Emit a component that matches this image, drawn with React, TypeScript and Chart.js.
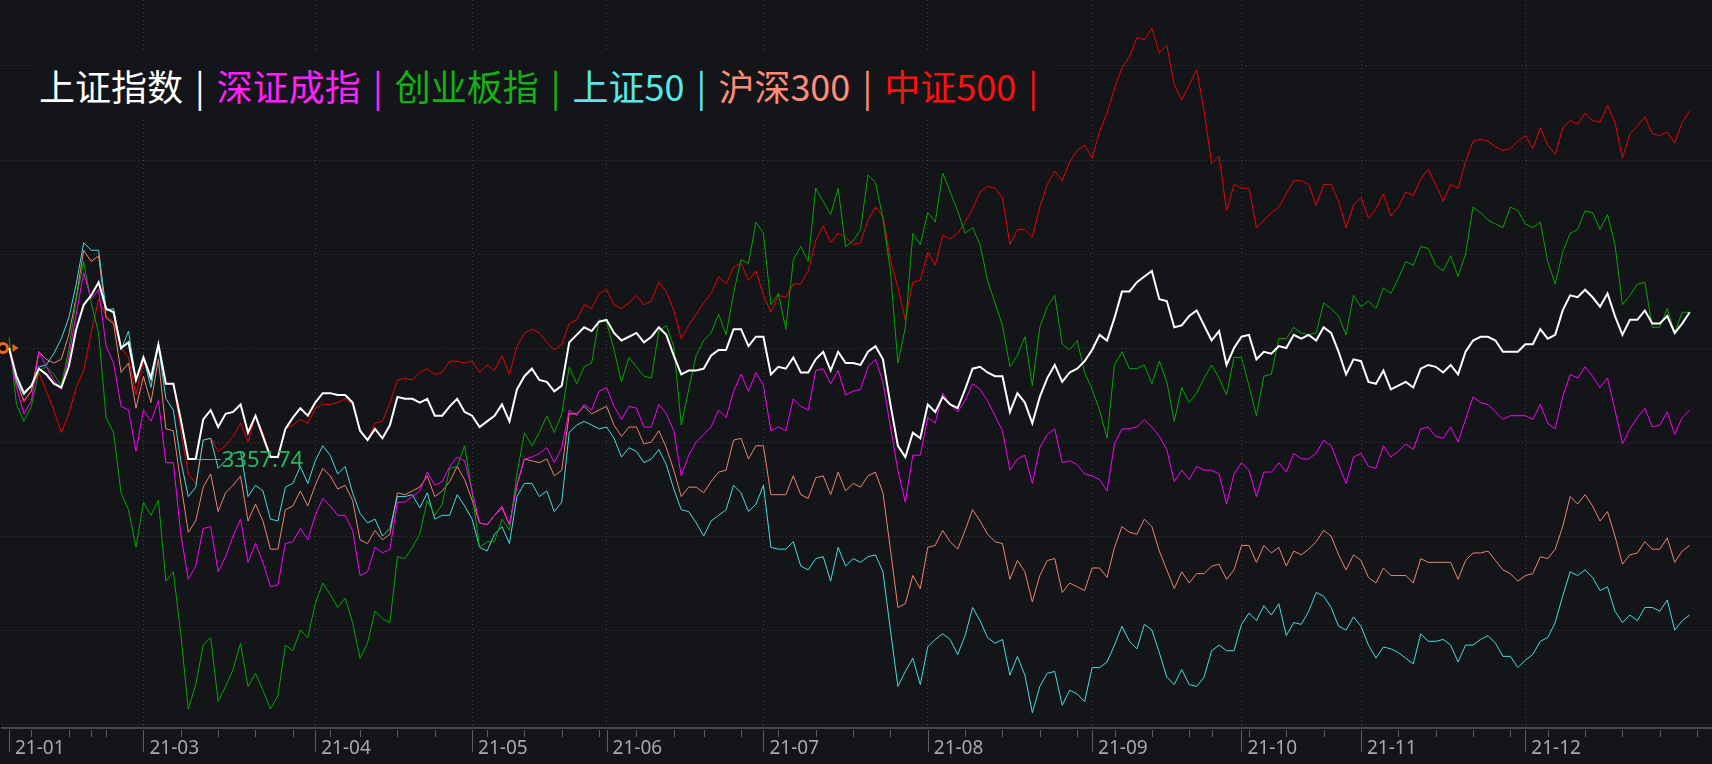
import React, { useEffect, useRef } from "react";
import { Chart, registerables } from "chart.js";

Chart.register(...registerables);

// ---------- categories (trading days shown) ----------
const FIRST_DAY = "2021-01-27";
const LAST_DAY = "2021-12-31";
const MARKET_HOLIDAYS = [
  "2021-02-11", "2021-02-12", "2021-02-15", "2021-02-16", "2021-02-17",
  "2021-04-05", "2021-05-03", "2021-05-04", "2021-05-05", "2021-06-14",
  "2021-09-20", "2021-09-21", "2021-10-01", "2021-10-04", "2021-10-05",
  "2021-10-06", "2021-10-07",
];

// ---------- tick labels ----------
const X_TICK_LABELS = ["21-01", "21-03", "21-04", "21-05", "21-06", "21-07", "21-08", "21-09", "21-10", "21-11", "21-12"];
const Y_GRID_VALUES = [-20, -15, -10, -5, 0, 5, 10, 15];

// ---------- series ----------
const SERIES_NAMES = ["上证指数", "深证成指", "创业板指", "上证50", "沪深300", "中证500"];
const SERIES_COLORS = ["#ffffff", "#ff00ff", "#00a800", "#45dede", "#f0836f", "#f00000"];
const LEGEND_COLORS = ["#ffffff", "#ff22ff", "#14b014", "#55eaea", "#ff8c78", "#ff1010"];

// change vs. first day, %
const SH_INDEX = [
  0, -1.5, -2.4, -2.0, -1.1, -1.4, -1.9, -2.1, -1.0, 1.0,
  2.3, 2.8, 3.5, 2.1, 1.9, 0.0, 0.3, -1.7, -0.5, -1.6,
  0.2, -1.9, -1.9, -3.8, -5.9, -5.9, -3.8, -3.3, -4.2, -3.5,
  -3.4, -3.0, -4.5, -3.6, -4.7, -5.8, -5.8, -4.3, -3.7, -3.2,
  -3.6, -2.9, -2.4, -2.4, -2.5, -2.5, -2.9, -4.4, -4.9, -4.3,
  -4.8, -4.1, -2.6, -2.7, -2.7, -2.9, -2.7, -3.6, -3.6, -3.1,
  -2.7, -3.4, -3.6, -4.2, -3.9, -3.6, -3.0, -3.9, -2.2, -1.5,
  -1.1, -1.7, -1.8, -2.3, -2.0, 0.3, 0.7, 1.1, 0.9, 1.4,
  1.5, 0.8, 0.4, 0.6, 0.8, 0.3, 0.6, 1.1, 0.7, -0.4,
  -1.4, -1.2, -1.2, -1.1, -0.4, -0.1, -0.1, 1.0, 1.0, 0.1,
  0.6, 0.6, -1.4, -1.0, -1.1, -0.5, -1.3, -1.3, -0.6, -0.2,
  -1.2, -0.2, -0.8, -0.8, -0.9, -0.2, 0.1, -0.6, -3.0, -5.2,
  -5.8, -4.5, -4.8, -3.0, -3.4, -2.6, -3.0, -3.2, -2.2, -1.1,
  -1.0, -1.3, -1.5, -1.5, -3.4, -2.4, -2.9, -4.0, -2.6, -1.6,
  -0.9, -1.8, -1.3, -1.1, -0.7, -0.1, 0.7, 0.4, 1.6, 3.0,
  3.0, 3.5, 3.8, 4.1, 2.6, 2.5, 1.1, 1.2, 1.7, 2.0,
  1.2, 0.4, 0.9, -0.9, 0.0, 0.6, 0.7, -0.6, -0.2, -0.3,
  0.1, 0.0, 0.7, 0.5, 0.7, 0.4, 1.1, 0.8, -0.2, -1.4,
  -0.6, -0.7, -1.8, -1.9, -1.2, -2.2, -2.0, -1.8, -2.1, -1.1,
  -0.9, -1.0, -1.3, -0.9, -1.4, -0.2, 0.4, 0.6, 0.6, 0.4,
  -0.2, -0.2, -0.2, 0.2, 0.2, 1.0, 0.5, 0.7, 2.0, 2.8,
  2.7, 3.1, 2.7, 2.2, 2.9, 1.7, 0.7, 1.5, 1.5, 2.0,
  1.3, 1.3, 1.7, 0.8, 1.3, 1.9,
];

const SZ_COMPONENT = [
  0, -2.1, -3.5, -2.8, -0.2, -1.0, -1.7, -2.2, -0.5, 1.8,
  4.0, 2.6, 3.1, 0.1, -0.8, -3.1, -3.3, -5.5, -3.3, -3.9,
  -2.8, -6.1, -6.1, -9.9, -12.3, -11.6, -9.6, -9.5, -11.9, -11.1,
  -10.0, -9.1, -11.4, -10.4, -11.4, -12.7, -12.6, -10.4, -10.3, -9.6,
  -10.2, -8.9, -8.0, -8.4, -8.9, -8.9, -9.7, -12.1, -11.9, -10.6,
  -10.9, -10.7, -8.2, -8.2, -7.9, -7.6, -6.6, -7.3, -7.1, -6.3,
  -5.8, -6.0, -7.6, -9.3, -9.4, -8.9, -8.4, -9.4, -7.3, -5.9,
  -5.8, -5.6, -5.3, -6.1, -5.3, -3.3, -3.6, -3.0, -3.3, -2.3,
  -2.1, -3.1, -3.8, -3.1, -3.2, -4.2, -4.2, -3.0, -3.5, -4.4,
  -6.8, -5.7, -5.0, -4.6, -4.2, -3.3, -3.7, -2.3, -1.4, -2.3,
  -1.3, -2.0, -4.4, -4.2, -4.4, -2.7, -3.1, -3.3, -1.2, -1.1,
  -1.9, -1.2, -2.5, -2.3, -2.2, -1.0, -0.6, -1.8, -4.2, -6.5,
  -8.2, -5.7, -5.7, -3.7, -4.0, -2.4, -3.0, -3.4, -2.8, -1.9,
  -2.2, -2.8, -3.6, -4.4, -6.5, -5.9, -5.7, -7.2, -5.3, -4.6,
  -4.3, -6.1, -6.0, -6.2, -6.7, -6.8, -7.0, -7.6, -5.1, -4.3,
  -4.3, -4.2, -3.8, -4.2, -4.7, -5.4, -7.1, -6.5, -7.0, -6.3,
  -6.5, -6.5, -6.7, -8.3, -6.7, -6.1, -6.5, -7.9, -6.6, -6.6,
  -6.1, -6.6, -5.6, -5.9, -5.9, -5.6, -4.9, -5.2, -6.2, -7.2,
  -5.8, -5.6, -6.3, -6.4, -5.2, -5.8, -5.5, -5.1, -5.4, -4.3,
  -4.2, -4.7, -4.8, -4.2, -5.0, -3.8, -2.6, -2.9, -3.0, -3.4,
  -3.8, -3.6, -3.6, -3.6, -3.8, -3.0, -4.0, -4.3, -2.6, -1.4,
  -1.6, -1.0, -1.5, -2.1, -1.6, -3.3, -5.1, -4.3, -3.7, -3.2,
  -4.2, -4.1, -3.4, -4.6, -3.7, -3.3,
];

const CHINEXT = [
  0.6, -3.0, -3.9, -3.1, -1.2, -1.0, -1.4, -2.0, -0.1, 2.6,
  4.6, 2.4, 0.8, -3.7, -4.5, -7.7, -8.6, -10.6, -8.2, -8.9,
  -8.1, -12.4, -11.9, -15.2, -19.2, -17.9, -15.8, -15.4, -18.8, -18.0,
  -17.1, -15.7, -18.0, -17.3, -18.2, -19.2, -18.5, -15.8, -16.1, -15.0,
  -15.4, -13.6, -12.5, -13.1, -13.8, -13.3, -14.6, -16.5, -15.7, -14.0,
  -14.4, -14.6, -11.1, -11.2, -10.6, -9.9, -8.1, -8.9, -8.3, -6.4,
  -6.3, -5.2, -7.7, -10.6, -10.3, -10.3, -9.1, -9.7, -6.7, -4.5,
  -5.2, -4.5, -3.6, -4.5, -3.5, -1.0, -1.9, -1.0, -0.8, 1.5,
  1.4, -0.1, -1.8, -0.5, -1.0, -1.5, -1.6, 0.9, 1.2, 0.1,
  -4.1, -2.2, -0.4, 0.4, 0.8, 1.8, 0.7, 2.9, 4.7, 4.5,
  6.7, 6.1, 2.3, 2.9, 1.0, 4.7, 5.4, 4.6, 8.5, 7.8,
  7.1, 8.5, 5.4, 5.7, 6.3, 9.2, 8.8, 6.9, 4.1, -0.8,
  1.1, 6.1, 5.5, 7.2, 6.7, 9.3, 8.3, 7.3, 6.1, 6.4,
  5.5, 3.6, 2.4, 1.2, -1.0, -0.4, 0.6, -2.0, 1.1, 2.2,
  2.8, 0.2, -0.1, 0.4, -1.3, -2.2, -3.3, -4.8, -0.9, -0.2,
  -1.1, -1.1, -0.9, -1.9, -0.7, -1.8, -3.9, -2.1, -2.9, -2.4,
  -1.6, -0.9, -1.6, -2.5, -0.5, -0.5, -2.0, -3.6, -1.5, -1.4,
  0.5, 0.5, 1.1, 0.8, 0.7, 0.8, 2.4, 2.1, 1.7, 0.7,
  2.8, 2.2, 2.5, 2.1, 3.2, 2.9, 3.7, 4.6, 4.4, 5.4,
  5.3, 4.4, 4.1, 4.9, 3.8, 5.0, 7.5, 7.2, 6.8, 6.6,
  6.4, 7.5, 7.3, 6.6, 6.4, 6.7, 4.6, 3.4, 5.1, 6.1,
  6.3, 7.3, 7.2, 6.3, 7.1, 5.5, 2.3, 2.8, 3.4, 3.5,
  1.1, 1.1, 2.1, 0.8, 1.9, 1.9,
];

const SSE50 = [
  0, -1.8, -2.5, -2.0, -1.0, -0.9, -0.3, 0.5, 1.6, 3.4,
  5.6, 5.2, 5.2, 2.0, 2.1, -0.1, 0.9, -1.7, -0.5, -2.1,
  0.1, -2.7, -3.3, -6.0, -7.9, -7.4, -4.9, -4.8, -6.4, -6.0,
  -5.6, -5.5, -7.9, -7.3, -7.6, -9.1, -9.2, -7.4, -7.2, -6.3,
  -7.2, -6.0, -5.2, -5.7, -6.7, -6.3, -7.7, -8.8, -9.3, -9.1,
  -10.0, -9.6, -7.9, -7.9, -7.8, -8.5, -7.7, -9.1, -8.9, -8.9,
  -7.8, -8.4, -9.1, -10.6, -10.8, -9.9, -9.5, -10.4, -7.9, -7.2,
  -7.2, -7.9, -7.6, -8.7, -8.2, -4.5, -4.1, -3.9, -4.1, -4.3,
  -4.2, -4.8, -5.8, -5.3, -5.5, -6.1, -5.9, -5.4, -6.2, -7.5,
  -8.6, -8.7, -9.3, -10.0, -9.2, -8.9, -8.6, -7.3, -7.7, -8.7,
  -8.3, -7.3, -10.6, -10.7, -10.7, -10.3, -11.6, -11.8, -11.2, -11.1,
  -12.4, -10.6, -11.6, -11.2, -11.4, -11.1, -11.0, -11.9, -15.0, -18.0,
  -17.2, -16.5, -17.9, -15.9, -15.5, -15.2, -15.5, -16.3, -15.3, -13.8,
  -14.5, -15.4, -15.7, -15.5, -17.4, -16.4, -17.4, -19.4, -18.0, -17.3,
  -17.2, -19.0, -18.2, -18.4, -18.8, -17.0, -17.0, -16.7, -15.8, -14.8,
  -15.6, -16.0, -14.7, -15.0, -16.2, -17.5, -17.9, -17.1, -17.9, -18.0,
  -17.5, -16.1, -15.8, -16.1, -16.1, -14.7, -14.1, -14.5, -13.7, -14.2,
  -13.6, -15.3, -14.6, -14.7, -14.0, -13.0, -13.2, -13.8, -14.8, -15.0,
  -14.3, -14.8, -15.8, -16.5, -15.9, -16.0, -16.2, -16.5, -16.8, -15.2,
  -15.6, -15.6, -15.5, -15.8, -16.7, -15.8, -15.8, -15.5, -15.3, -15.7,
  -16.4, -16.4, -17.0, -16.6, -16.3, -15.6, -15.4, -14.6, -13.2, -11.9,
  -12.1, -11.8, -12.2, -12.9, -12.7, -14.0, -14.6, -14.2, -14.5, -13.8,
  -13.8, -14.0, -13.4, -15.0, -14.5, -14.2,
];

const CSI300 = [
  0, -1.8, -2.8, -2.3, -0.2, -0.6, -0.8, -0.6, 0.7, 2.7,
  5.2, 4.6, 4.9, 1.6, 1.3, -1.3, -0.8, -3.2, -1.5, -2.9,
  -0.6, -4.3, -4.4, -7.2, -9.8, -9.2, -7.4, -6.7, -8.7, -7.7,
  -7.3, -6.8, -9.2, -8.3, -9.2, -10.7, -10.7, -8.6, -8.4, -7.6,
  -8.4, -7.3, -6.4, -6.8, -7.5, -7.3, -8.1, -10.2, -10.4, -9.7,
  -10.2, -9.9, -7.7, -7.8, -7.6, -7.4, -6.8, -7.9, -7.6, -7.1,
  -6.3, -7.0, -8.1, -9.3, -9.4, -8.9, -8.5, -9.4, -7.3, -5.9,
  -6.0, -6.1, -5.9, -6.8, -6.5, -3.5, -3.5, -3.1, -3.5, -3.3,
  -3.1, -4.1, -4.7, -4.2, -4.2, -5.1, -5.0, -4.4, -5.3, -6.5,
  -7.9, -7.4, -7.4, -7.7, -7.1, -6.6, -6.5, -4.9, -4.8, -5.9,
  -5.2, -5.2, -7.8, -7.8, -7.8, -6.8, -7.8, -8.0, -6.9, -6.8,
  -7.8, -6.6, -7.6, -7.2, -7.4, -6.8, -6.6, -7.7, -10.7, -13.8,
  -13.6, -12.1, -12.8, -10.6, -10.5, -9.7, -10.3, -10.7, -9.7, -8.6,
  -9.2, -9.9, -10.3, -10.4, -12.3, -11.3, -11.9, -13.5, -12.1, -11.3,
  -11.2, -13.0, -12.5, -12.7, -12.9, -11.7, -11.7, -12.2, -10.6, -9.5,
  -9.8, -9.9, -9.1, -9.5, -10.8, -11.8, -12.8, -11.9, -12.5, -12.0,
  -12.0, -11.6, -11.5, -12.3, -11.8, -10.5, -10.5, -11.4, -10.5, -10.9,
  -10.6, -11.6, -10.8, -11.0, -10.7, -10.3, -9.7, -10.0, -11.0, -11.8,
  -11.0, -11.3, -12.2, -12.5, -11.7, -12.1, -12.1, -12.1, -12.5, -11.2,
  -11.4, -11.4, -11.4, -11.4, -12.3, -11.3, -10.9, -10.9, -10.8, -11.3,
  -11.8, -12.0, -12.4, -12.1, -12.0, -11.1, -11.2, -10.7, -9.5, -7.9,
  -8.3, -7.8, -8.4, -9.2, -8.7, -10.0, -11.5, -11.0, -10.9, -10.3,
  -10.7, -10.7, -10.1, -11.4, -10.8, -10.5,
];

const CSI500 = [
  0, -1.7, -2.9, -2.2, -1.3, -2.3, -3.3, -4.5, -3.5, -2.1,
  -1.2, 0.8, 2.6, 1.7, 1.4, 0.0, -0.5, -2.5, -0.7, -1.5,
  0.1, -1.9, -1.9, -4.4, -6.7, -7.2, -4.9, -4.8, -5.5, -5.2,
  -4.7, -4.0, -5.0, -3.6, -4.5, -5.7, -5.8, -4.3, -4.1, -3.8,
  -4.0, -3.2, -3.0, -3.0, -2.9, -2.7, -3.0, -4.4, -4.9, -4.0,
  -3.9, -2.9, -1.7, -1.6, -1.7, -1.3, -1.1, -1.4, -1.3, -0.7,
  -0.7, -0.8, -0.7, -1.3, -0.9, -1.2, -0.4, -1.4, 0.1, 0.8,
  1.0, 0.8, 0.3, -0.1, 0.2, 1.3, 1.5, 2.3, 2.1, 2.9,
  3.1, 2.3, 2.1, 2.4, 2.8, 2.3, 2.5, 3.5, 3.0, 2.0,
  0.5, 1.2, 1.8, 2.4, 2.9, 3.8, 3.4, 4.3, 4.5, 3.6,
  4.1, 2.8, 1.9, 2.8, 2.7, 3.4, 3.4, 4.1, 5.7, 6.5,
  5.6, 6.1, 5.9, 5.5, 5.6, 6.8, 7.5, 7.0, 4.7, 3.2,
  1.5, 3.5, 3.6, 5.1, 4.4, 6.0, 5.8, 6.1, 6.7, 7.4,
  8.3, 8.6, 8.5, 8.0, 5.5, 6.3, 6.3, 5.9, 7.5, 8.7,
  9.4, 8.9, 9.9, 10.5, 10.8, 10.1, 11.5, 12.5, 13.8, 14.9,
  15.5, 16.5, 16.4, 17.0, 15.7, 16.1, 14.0, 13.2, 14.0, 14.8,
  12.6, 9.8, 10.2, 7.3, 8.7, 8.5, 8.5, 6.4, 6.8, 7.2,
  7.5, 8.2, 8.9, 8.9, 8.7, 7.6, 8.7, 8.7, 7.8, 6.4,
  7.6, 8.0, 6.9, 7.4, 8.2, 7.0, 7.5, 8.3, 8.1, 9.0,
  9.5, 8.7, 7.8, 8.7, 8.5, 9.9, 11.0, 11.1, 11.0, 10.7,
  10.5, 10.6, 11.0, 11.3, 10.6, 11.7, 10.8, 10.3, 11.7, 12.1,
  11.9, 12.5, 12.1, 12.0, 12.9, 12.0, 10.1, 11.4, 11.8, 12.3,
  11.4, 11.3, 11.5, 10.9, 12.0, 12.6,
];

const SH_MIN_LABEL = "3357.74";

// ---------- style ----------
const BG = "#131519";
const GRID_COLOR = "#3d4047";
const AXIS_COLOR = "#45484f";
const TICK_MARK_COLOR = "#5a5d64";
const LABEL_COLOR = "#a8a8a8";
const W = 1712;
const H = 764;
const X_MIN = -0.88;
const X_MAX = 227.99;
const Y_MIN = -20.21;
const Y_MAX = 18.51;

function tradingDays(): string[] {
  const out: string[] = [];
  const d = new Date(FIRST_DAY + "T00:00:00Z");
  const end = new Date(LAST_DAY + "T00:00:00Z");
  while (d.getTime() <= end.getTime()) {
    const iso = d.toISOString().slice(0, 10);
    const wd = d.getUTCDay();
    if (wd !== 0 && wd !== 6 && MARKET_HOLIDAYS.indexOf(iso) < 0) out.push(iso);
    d.setUTCDate(d.getUTCDate() + 1);
  }
  return out;
}

function weekKey(iso: string): number {
  const d = new Date(iso + "T00:00:00Z");
  const wd = (d.getUTCDay() + 6) % 7;
  return Math.round((d.getTime() - wd * 86400000) / 86400000);
}

export default function App() {
  const canvasRef = useRef<HTMLCanvasElement | null>(null);

  useEffect(() => {
    const canvas = canvasRef.current;
    if (!canvas) return;
    const dates = tradingDays();
    const seriesValues = [SH_INDEX, SZ_COMPONENT, CHINEXT, SSE50, CSI300, CSI500];

    const monthTicks = X_TICK_LABELS.map((l) => {
      const ym = "20" + l;
      return dates.findIndex((d) => d.startsWith(ym));
    });
    const weekTicks: number[] = [];
    dates.forEach((d, i) => {
      if (i === 0 || weekKey(d) !== weekKey(dates[i - 1])) weekTicks.push(i);
    });
    weekTicks.push(dates.length); // next week beyond the last session

    const decor = {
      id: "decor",
      afterDatasetsDraw(chart: any) {
        const { ctx } = chart;
        const xs = chart.scales.x;
        const ys = chart.scales.y;
        // min annotation of 上证指数
        let mi = 0;
        SH_INDEX.forEach((v, i) => {
          if (v <= SH_INDEX[mi]) mi = i;
        });
        const px = xs.getPixelForValue(mi);
        const py = Math.round(ys.getPixelForValue(SH_INDEX[mi])) + 0.5;
        ctx.save();
        ctx.strokeStyle = "#8e8e8e";
        ctx.lineWidth = 1;
        ctx.beginPath();
        ctx.moveTo(px, py);
        ctx.lineTo(px + 25, py);
        ctx.stroke();
        ctx.fillStyle = "#25b862";
        ctx.font = '22px "Noto Sans"';
        ctx.textBaseline = "middle";
        ctx.textAlign = "left";
        ctx.fillText(SH_MIN_LABEL, px + 26, py + 1);
        // base marker
        const y0 = ys.getPixelForValue(0);
        ctx.beginPath();
        ctx.arc(3, y0, 6, 0, Math.PI * 2);
        ctx.fillStyle = "#f0661a";
        ctx.fill();
        ctx.beginPath();
        ctx.arc(3, y0, 3, 0, Math.PI * 2);
        ctx.fillStyle = "#000000";
        ctx.fill();
        ctx.beginPath();
        ctx.moveTo(12.5, y0 - 4);
        ctx.lineTo(18.5, y0);
        ctx.lineTo(12.5, y0 + 4);
        ctx.closePath();
        ctx.fillStyle = "#f0661a";
        ctx.fill();
        ctx.restore();
      },
      afterDraw(chart: any) {
        const { ctx, chartArea } = chart;
        const xs = chart.scales.x;
        const top = chartArea.bottom + 2;
        ctx.save();
        ctx.strokeStyle = TICK_MARK_COLOR;
        ctx.lineWidth = 1;
        weekTicks.forEach((i) => {
          const px = Math.round(xs.getPixelForValue(i)) + 0.5;
          ctx.beginPath();
          ctx.moveTo(px, top);
          ctx.lineTo(px, top + 7);
          ctx.stroke();
        });
        monthTicks.forEach((i) => {
          const px = Math.round(xs.getPixelForValue(i)) + 0.5;
          ctx.beginPath();
          ctx.moveTo(px, top);
          ctx.lineTo(px, top + 22);
          ctx.stroke();
        });
        ctx.restore();
      },
    };

    const chart = new Chart(canvas, {
      type: "line",
      data: {
        datasets: seriesValues.map((vals, k) => ({
          label: SERIES_NAMES[k],
          data: vals.map((v, i) => ({ x: i, y: v })),
          borderColor: SERIES_COLORS[k],
          backgroundColor: SERIES_COLORS[k],
          borderWidth: k === 0 ? 2 : 1,
          pointRadius: 0,
          tension: 0,
          fill: false,
        })),
      },
      options: {
        responsive: false,
        animation: false,
        devicePixelRatio: 1,
        events: [],
        layout: { padding: 0 },
        plugins: { legend: { display: false }, tooltip: { enabled: false } },
        scales: {
          x: {
            type: "linear",
            min: X_MIN,
            max: X_MAX,
            afterBuildTicks: (s: any) => {
              s.ticks = monthTicks.map((v) => ({ value: v }));
            },
            afterFit: (s: any) => {
              s.height = 36;
            },
            grid: {
              color: (c: any) => (c.tick && c.tick.value === 0 ? "rgba(0,0,0,0)" : GRID_COLOR),
              lineWidth: 1,
              drawTicks: false,
            },
            border: { display: true, color: AXIS_COLOR, width: 2, dash: [1, 3] },
            ticks: {
              autoSkip: false,
              maxRotation: 0,
              minRotation: 0,
              align: "start",
              labelOffset: 6,
              padding: 9,
              color: LABEL_COLOR,
              font: { family: "Noto Sans", size: 19 },
              callback: (v: any) => {
                const k = monthTicks.indexOf(v);
                return k >= 0 ? X_TICK_LABELS[k] : "";
              },
            },
          },
          y: {
            min: Y_MIN,
            max: Y_MAX,
            afterBuildTicks: (s: any) => {
              s.ticks = Y_GRID_VALUES.map((v) => ({ value: v }));
            },
            afterFit: (s: any) => {
              s.width = 0;
            },
            grid: { color: GRID_COLOR, lineWidth: 1, drawTicks: false },
            border: { display: false, dash: [1, 3] },
            ticks: { display: false },
          },
        },
      },
      plugins: [decor],
    } as any);

    return () => chart.destroy();
  }, []);

  return (
    <div style={{ position: "fixed", left: 0, top: 0, width: W, height: H, background: BG, overflow: "hidden" }}>
      <canvas ref={canvasRef} width={W} height={H} style={{ display: "block", width: W, height: H }} />
      <div
        style={{
          position: "absolute",
          left: 36,
          top: 52,
          height: 66,
          lineHeight: "66px",
          padding: "0 6px 0 3px",
          background: BG,
          fontFamily: '"Noto Sans CJK SC", "Noto Sans", sans-serif',
          fontSize: 36,
          wordSpacing: 4,
          whiteSpace: "pre",
        }}
      >
        {SERIES_NAMES.map((n, k) => (
          <span key={n} style={{ color: LEGEND_COLORS[k] }}>
            {n + " | "}
          </span>
        ))}
      </div>
    </div>
  );
}
